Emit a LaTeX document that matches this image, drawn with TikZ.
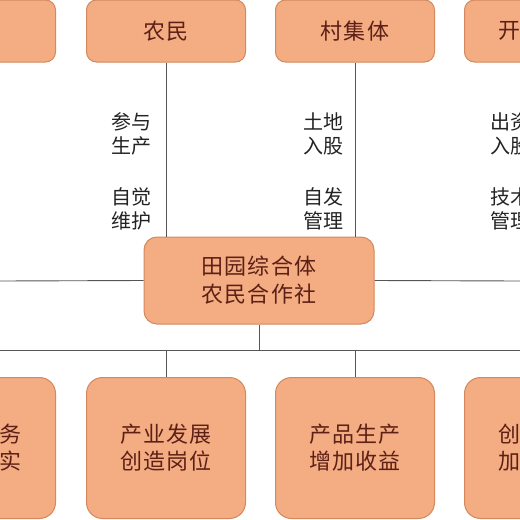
\documentclass[tikz,border=0pt]{standalone}
\usepackage{fontspec}
\setmainfont{Noto Sans CJK SC}
\newfontfamily\boxfont[LetterSpace=6]{Noto Sans CJK SC}
\definecolor{boxfill}{RGB}{244,172,130}
\definecolor{boxdraw}{RGB}{212,136,92}
\definecolor{boxtext}{RGB}{92,32,22}
\definecolor{linec}{RGB}{85,85,85}
\definecolor{labc}{RGB}{35,35,35}
\begin{document}
\begin{tikzpicture}[x=1pt,y=-1pt,
  boxbase/.style={draw=boxdraw, fill=boxfill, line width=1pt, inner sep=0pt,
    text=boxtext, align=center, minimum width=159pt},
  topbox/.style={boxbase, rounded corners=10pt, minimum height=62pt,
    font=\boxfont\fontsize{22}{27}\selectfont},
  midbox/.style={boxbase, rounded corners=13pt, minimum width=230pt, minimum height=87pt,
    font=\boxfont\fontsize{22}{28}\selectfont},
  botbox/.style={boxbase, rounded corners=16pt, minimum height=141pt,
    font=\boxfont\fontsize{22}{27}\selectfont},
  lab/.style={text=labc, align=right, inner sep=0pt, font=\fontsize{20}{24}\selectfont},
  labl/.style={text=labc, align=left, inner sep=0pt, font=\fontsize{20}{24}\selectfont},
  conn/.style={draw=linec, line width=0.9pt}]
\useasboundingbox (0,0) rectangle (520,520);
\fill[white] (0,0) rectangle (520,520);
\clip (0,0) rectangle (520,520);
% top row
\node[topbox] (t1) at (-24,31) {};
\node[topbox] (t2) at (166,31) {农民};
\node[topbox] (t3) at (355,31) {村集体};
\node[topbox] (t4) at (544,31) {开\hphantom{发企业}};
% centre
\node[midbox] (cc) at (259,280.5) {田园综合体\\农民合作社};
% bottom row
\node[botbox] (b1) at (-24,448) {\hphantom{服务落}务\\\hphantom{保障落}实};
\node[botbox] (b2) at (166,448) {产业发展\\创造岗位};
\node[botbox] (b3) at (355,448) {产品生产\\增加收益};
\node[botbox] (b4) at (544,448) {创\hphantom{新收益}\\加\hphantom{强合作}};
% labels
\node[lab, anchor=east] (l1) at (152,133.5) {参与\\生产};
\node[lab, anchor=east] (l2) at (152,208.5) {自觉\\维护};
\node[lab, anchor=east] (l3) at (344,133.5) {土地\\入股};
\node[lab, anchor=east] (l4) at (344,208.5) {自发\\管理};
\node[labl, anchor=west] (l5) at (490,133.5) {出资\\入股};
\node[labl, anchor=west] (l6) at (490,208.5) {技术\\管理};
% connectors
\coordinate (eL) at (0,281);
\coordinate (eR) at (520,281);
\coordinate (jn) at (259,350);
\coordinate (hL) at (0,350);
\coordinate (hR) at (520,350);
\draw[conn] (t2.south) -- (t2.south |- cc.north);
\draw[conn] (t3.south) -- (t3.south |- cc.north);
\draw[conn] (cc.west) -- (eL);
\draw[conn] (cc.east) -- (eR);
\draw[conn] (cc.south) -- (jn);
\draw[conn] (hL) -- (hR);
\draw[conn] (b2.north |- jn) -- (b2.north);
\draw[conn] (b3.north |- jn) -- (b3.north);
\end{tikzpicture}
\end{document}
